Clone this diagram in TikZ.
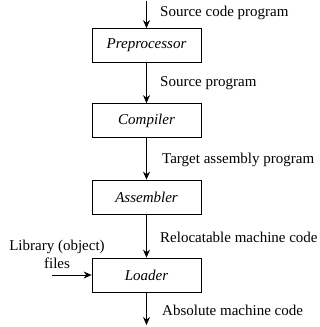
\documentclass[tikz,border=0pt]{standalone}
\usepackage{fontspec}
\setmainfont{Liberation Serif}
\usetikzlibrary{arrows.meta}

\begin{document}
\begin{tikzpicture}[x=1pt,y=-1pt,
        txt/.style={font=\fontsize{15}{18}\selectfont},
        stage/.style={draw,line width=0.8pt,minimum width=109pt,minimum height=34pt,inner sep=0pt,font=\fontsize{15}{18}\selectfont\itshape},
        note/.style={txt,anchor=west,inner sep=0pt},
        flow/.style={line width=0.8pt,-{Stealth[length=8pt,width=7pt]}}]
        \useasboundingbox (0,0) rectangle (320,327);
        % stages
        \node [stage] (pre) at (146.5,45.5) {Preprocessor};
        \node [stage] (comp) at (146.5,120.5) {Compiler};
        \node [stage] (asm) at (146.5,197) {Assembler};
        \node [stage] (load) at (146.5,275) {Loader};
        % free ends
        \coordinate (src) at (146.5,1);
        \coordinate (lib) at (52,275);
        \coordinate (out) at (146.5,325);
        % arrows
        \draw [flow] (src) -- (pre);
        \draw [flow] (pre) -- (comp);
        \draw [flow] (comp) -- (asm);
        \draw [flow] (asm) -- (load);
        \draw [flow] (lib) -- (load);
        \draw [flow] (load) -- (out);
        % labels
        \node [note] (lsrc) at (160,13) {Source code program};
        \node [note] (lsp) at (160,83) {Source program};
        \node [note] (ltap) at (162,160) {Target assembly program};
        \node [note] (lrmc) at (160,237) {Relocatable machine code};
        \node [note] (lamc) at (162,310) {Absolute machine code};
        \node [txt,align=center,inner sep=0pt] (llib) at (57,254) {Library (object)\\files};
\end{tikzpicture}
\end{document}
